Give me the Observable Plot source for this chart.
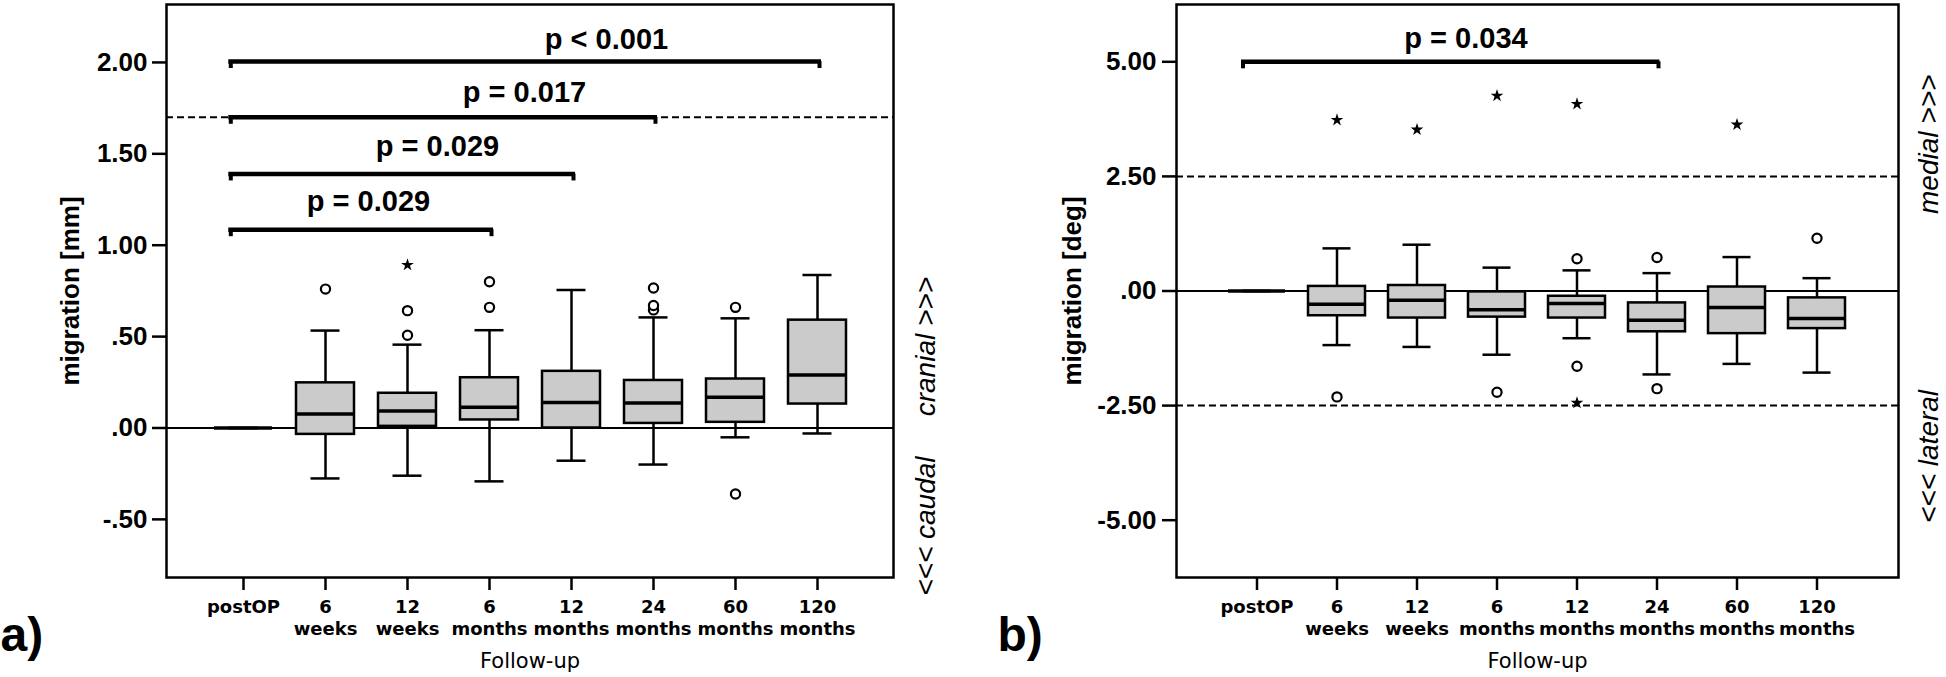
<!DOCTYPE html>
<html><head><meta charset="utf-8">
<script src="https://cdn.jsdelivr.net/npm/d3@7"></script>
<script src="https://cdn.jsdelivr.net/npm/@observablehq/plot@0.6"></script>
<style>
html,body{margin:0;padding:0;background:#fff;}
#wrap{position:relative;width:1946px;height:677px;overflow:hidden;background:#fff;}
#wrap svg{position:absolute;top:0;overflow:visible;}
</style></head><body><div id="wrap"></div>
<script>
// ---- categories & tick labels ----
const categories = ["postOP","6 weeks","12 weeks","6 months","12 months","24 months","60 months","120 months"];
const xTickLabels = ["postOP","6\nweeks","12\nweeks","6\nmonths","12\nmonths","24\nmonths","60\nmonths","120\nmonths"];

// ---- panel a: migration [mm] ----
const aLow  = [0, -0.276, -0.261, -0.292, -0.179, -0.200, -0.051, -0.030];
const aQ1   = [0, -0.035,  0.009,  0.044,  0.000,  0.025,  0.031,  0.131];
const aMed  = [0,  0.077,  0.093,  0.113,  0.140,  0.137,  0.168,  0.290];
const aQ3   = [0,  0.247,  0.190,  0.275,  0.310,  0.260,  0.268,  0.590];
const aHigh = [0,  0.533,  0.456,  0.535,  0.755,  0.605,  0.600,  0.837];
const aCircles = [["6 weeks",0.76],["12 weeks",0.507],["12 weeks",0.642],["6 months",0.66],["6 months",0.80],
                  ["24 months",0.646],["24 months",0.67],["24 months",0.766],["60 months",0.66],["60 months",-0.361]];
const aStars = [["12 weeks",0.892]];
const aYTicks = [-0.5, 0, 0.5, 1, 1.5, 2];
const aYTickLabels = ["-.50", ".00", ".50", "1.00", "1.50", "2.00"];
const aDashed = [1.70];
const aBrackets = [
  {to:"6 months",   y:1.085, p:"p = 0.029"},
  {to:"12 months",  y:1.390, p:"p = 0.029"},
  {to:"24 months",  y:1.700, p:"p = 0.017"},
  {to:"120 months", y:2.005, p:"p < 0.001"}
];
const aSide = [{label:"<<< caudal", at:-0.537},{label:"cranial >>>", at:0.445}];

// ---- panel b: migration [deg] ----
const bLow  = [0, -1.18, -1.22, -1.39, -1.03, -1.82, -1.59, -1.78];
const bQ1   = [0, -0.54, -0.59, -0.57, -0.59, -0.89, -0.93, -0.82];
const bMed  = [0, -0.29, -0.20, -0.41, -0.275, -0.64, -0.36, -0.60];
const bQ3   = [0,  0.10,  0.12, -0.02, -0.115, -0.26,  0.087, -0.15];
const bHigh = [0,  0.93,  1.01,  0.51,  0.45,  0.39,  0.74,  0.28];
const bCircles = [["6 weeks",-2.31],["6 months",-2.21],["12 months",0.705],["12 months",-1.64],
                  ["24 months",0.73],["24 months",-2.13],["120 months",1.15]];
const bStars = [["6 weeks",3.73],["12 weeks",3.52],["6 months",4.26],["12 months",4.08],["12 months",-2.44],["60 months",3.63]];
const bYTicks = [-5, -2.5, 0, 2.5, 5];
const bYTickLabels = ["-5.00", "-2.50", ".00", "2.50", "5.00"];
const bDashed = [2.5, -2.5];
const bBrackets = [{to:"24 months", y:5.0, p:"p = 0.034"}];
const bSide = [{label:"<<< lateral", at:-3.61},{label:"medial >>>", at:3.2}];

// ---- layout (styling only) ----
const SANS = "Liberation Sans, Arial, sans-serif";
const DEJA = "DejaVu Sans, Verdana, sans-serif";

function panel(o) {
  const rows = categories.map((c,i)=>({cat:c, lo:o.lo[i], q1:o.q1[i], med:o.med[i], q3:o.q3[i], hi:o.hi[i]}));
  const circ = o.circles.map(([c,v])=>({cat:c, v}));
  const star = o.stars.map(([c,v])=>({cat:c, v}));
  const frameH = 677 - 4 - 100;
  const hook = (o.domain[1]-o.domain[0]) * 7 / frameH;
  const tickMap = new Map(o.yTicks.map((t,i)=>[t, o.yTickLabels[i]]));
  const xLab = new Map(categories.map((c,i)=>[c, xTickLabels[i]]));
  const br = o.brackets.map((b,i)=>({...b, from: categories[0], labelAt: o.lab[i][0]}));
  const labelMarks = br.map((b,i)=>Plot.text([b], {
    x: "labelAt", y: "y", text: "p", dx: o.lab[i][1], dy: o.lab[i][2],
    textAnchor: "middle", lineAnchor: "bottom", fontSize: 29, fontWeight: "bold", fontFamily: SANS, fill: "black"
  }));
  return Plot.plot({
    width: 973, height: 677,
    marginLeft: o.ml, marginRight: o.mr, marginTop: 4, marginBottom: 100,
    style: {background: "white", color: "black", overflow: "visible"},
    x: {type: "band", domain: categories, paddingInner: o.pi, paddingOuter: o.po},
    y: {domain: o.domain},
    marks: [
      Plot.ruleY(o.dashed, {stroke: "black", strokeWidth: 2, strokeDasharray: "7,4"}),
      Plot.ruleY([0], {stroke: "black", strokeWidth: 2}),
      Plot.ruleX(rows, {x: "cat", y1: "lo", y2: "q1", stroke: "black", strokeWidth: 2.5}),
      Plot.ruleX(rows, {x: "cat", y1: "q3", y2: "hi", stroke: "black", strokeWidth: 2.5}),
      Plot.tickY(rows, {x: "cat", y: "lo", stroke: "black", strokeWidth: 2.5, insetLeft: 14.5, insetRight: 14.5}),
      Plot.tickY(rows, {x: "cat", y: "hi", stroke: "black", strokeWidth: 2.5, insetLeft: 14.5, insetRight: 14.5}),
      Plot.barY(rows, {x: "cat", y1: "q1", y2: "q3", fill: "#cbcbcb", stroke: "black", strokeWidth: 2.5}),
      Plot.tickY(rows, {x: "cat", y: "med", stroke: "black", strokeWidth: 3.5}),
      Plot.dot(circ, {x: "cat", y: "v", r: 4.6, stroke: "black", strokeWidth: 2.2, fill: "white"}),
      Plot.dot(star, {x: "cat", y: "v", r: 4, symbol: "star", fill: "black", stroke: "none"}),
      Plot.ruleY(br, {x1: "from", x2: "to", y: "y", stroke: "black", strokeWidth: 4.5, insetLeft: o.bInL, insetRight: o.bInR}),
      Plot.ruleX(br, {x: "from", y1: "y", y2: d => d.y - hook, dx: o.hookL, stroke: "black", strokeWidth: 4}),
      Plot.ruleX(br, {x: "to", y1: "y", y2: d => d.y - hook, dx: o.hookR, stroke: "black", strokeWidth: 4}),
      ...labelMarks,
      Plot.frame({stroke: "black", strokeWidth: 2.5}),
      Plot.axisY({ticks: o.yTicks, tickFormat: d => tickMap.get(d), tickSize: 14, tickPadding: o.tp,
        fontSize: 26, fontWeight: "bold", fontFamily: SANS, stroke: "black", strokeWidth: 2.5, label: null}),
      Plot.axisX({tickFormat: d => xLab.get(d), tickSize: 13, tickPadding: 8, lineHeight: 1.17,
        fontSize: 18, fontWeight: "bold", fontFamily: DEJA, stroke: "black", strokeWidth: 2.5, label: null}),
      Plot.text([o.yTitle], {frameAnchor: "left", dx: o.ytdx, rotate: -90, textAnchor: "middle", fontSize: 26, fontWeight: "bold", fontFamily: SANS, fill: "black"}),
      Plot.text(["Follow-up"], {frameAnchor: "bottom", dy: 90, textAnchor: "middle", lineAnchor: "bottom", fontSize: 21, fontFamily: DEJA, fill: "black"}),
      Plot.text(o.side, {y: "at", text: "label", frameAnchor: "right", dx: o.sdx, rotate: -90, textAnchor: "middle", fontSize: 28, fontStyle: "italic", fontFamily: SANS, fill: "black"}),
      Plot.text([o.tag], {frameAnchor: "bottom-left", dx: o.tagdx, dy: 73, textAnchor: "start", lineAnchor: "bottom", fontSize: 48, fontWeight: "bold", fontFamily: SANS, fill: "black"})
    ]
  });
}

const wrap = document.getElementById("wrap");
const pa = panel({
  lo: aLow, q1: aQ1, med: aMed, q3: aQ3, hi: aHigh, circles: aCircles, stars: aStars,
  yTicks: aYTicks, yTickLabels: aYTickLabels, dashed: aDashed, brackets: aBrackets, side: aSide,
  domain: [-0.818, 2.317], ml: 166, mr: 80, pi: 0.2927, po: 0.579,
  bInL: 14.3, bInR: 25, hookL: -12.7, hookR: 2, tp: 5,
  lab: [["12 weeks", -39, -19], ["12 weeks", 30, -18], ["6 months", 35, -15], ["12 months", 35, -13]],
  yTitle: "migration [mm]", ytdx: -96, sdx: 33, tag: "a)", tagdx: -166
});
pa.style.left = "0px";
wrap.appendChild(pa);
const pb = panel({
  lo: bLow, q1: bQ1, med: bMed, q3: bQ3, hi: bHigh, circles: bCircles, stars: bStars,
  yTicks: bYTicks, yTickLabels: bYTickLabels, dashed: bDashed, brackets: bBrackets, side: bSide,
  domain: [-6.25, 6.25], ml: 203, mr: 48, pi: 0.284, po: 0.6,
  bInL: 13, bInR: 25.6, hookL: -14, hookR: 1.5, tp: 6,
  lab: [["6 months", -31, -14]],
  yTitle: "migration [deg]", ytdx: -103.5, sdx: 31, tag: "b)", tagdx: -179
});
pb.style.left = "973px";
wrap.appendChild(pb);
</script></body></html>
